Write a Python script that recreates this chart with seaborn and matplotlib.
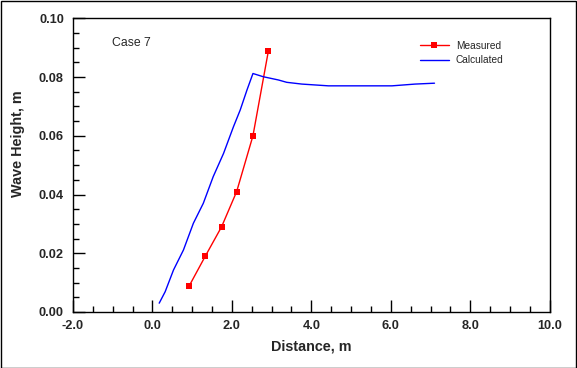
import numpy as np
import pandas as pd
import matplotlib
matplotlib.use("Agg")
import matplotlib.pyplot as plt
from matplotlib.ticker import MultipleLocator, FormatStrFormatter
import seaborn as sns

# --- DATA ---
measured_x = [0.93, 1.33, 1.74, 2.12, 2.53, 2.92]
measured_h = [0.009, 0.019, 0.029, 0.041, 0.060, 0.089]

calc_x = [0.17, 0.32, 0.53, 0.78, 1.03, 1.28, 1.53, 1.79, 2.04, 2.21, 2.38, 2.53,
          2.79, 3.17, 3.38, 3.76, 4.43, 6.03, 6.61, 7.10]
calc_h = [0.0030, 0.0069, 0.0143, 0.0211, 0.0302, 0.0370, 0.0461, 0.0540, 0.0631,
          0.0688, 0.0756, 0.0812, 0.0801, 0.0790, 0.0782, 0.0776, 0.0770, 0.0770,
          0.0776, 0.0779]

df_meas = pd.DataFrame({"Distance": measured_x, "Height": measured_h})
df_calc = pd.DataFrame({"Distance": calc_x, "Height": calc_h})

sns.set_style("ticks")
plt.rcParams["font.family"] = ["Liberation Sans", "DejaVu Sans"]

fig = plt.figure(figsize=(5.77, 3.68), dpi=100)
ax = fig.add_axes([0.1265, 0.1522, 0.8262, 0.7981])

sns.lineplot(data=df_meas, x="Distance", y="Height", ax=ax, color="#ff0000",
             marker="s", markersize=4.2, markeredgewidth=0, linewidth=1.0,
             label="Measured", sort=False)
sns.lineplot(data=df_calc, x="Distance", y="Height", ax=ax, color="#0000ff",
             linewidth=1.0, label="Calculated", sort=False)

ax.set_xlim(-2.0, 10.0)
ax.set_ylim(0.0, 0.10)
ax.xaxis.set_major_locator(MultipleLocator(2.0))
ax.xaxis.set_minor_locator(MultipleLocator(0.5))
ax.yaxis.set_major_locator(MultipleLocator(0.02))
ax.yaxis.set_minor_locator(MultipleLocator(0.005))
ax.xaxis.set_major_formatter(FormatStrFormatter("%.1f"))
ax.yaxis.set_major_formatter(FormatStrFormatter("%.2f"))

ax.tick_params(axis="both", which="major", direction="in", length=8.5, width=1,
               color="black", labelsize=9.2, top=False, right=False)
ax.tick_params(axis="both", which="minor", direction="in", length=4.5, width=1,
               color="black", top=False, right=False)
ax.tick_params(axis="x", which="major", pad=5.5)
ax.tick_params(axis="y", which="major", pad=6.5)
for lbl in ax.get_xticklabels() + ax.get_yticklabels():
    lbl.set_fontweight("bold")

for side in ["left", "right", "top", "bottom"]:
    ax.spines[side].set_visible(True)
    ax.spines[side].set_color("black")
    ax.spines[side].set_linewidth(1.0)

ax.set_xlabel("Distance, m", fontsize=10.4, fontweight="bold", labelpad=6)
ax.set_ylabel("Wave Height, m", fontsize=10.4, fontweight="bold")
ax.yaxis.set_label_coords(-0.100, 0.574)

ax.text(0.082, 0.916, "Case 7", transform=ax.transAxes, fontsize=8.8,
        ha="left", va="center")

leg = ax.legend(loc="upper left", bbox_to_anchor=(0.72, 0.937), frameon=False,
                fontsize=7.3, handlelength=2.8, handletextpad=0.7,
                labelspacing=0.45, borderaxespad=0)

# outer border
fig.patches.append(plt.Rectangle((0.001, 0.001), 0.998, 0.997, transform=fig.transFigure,
                                 fill=False, edgecolor="black", linewidth=1.0))

fig.savefig("out.png", dpi=100)
